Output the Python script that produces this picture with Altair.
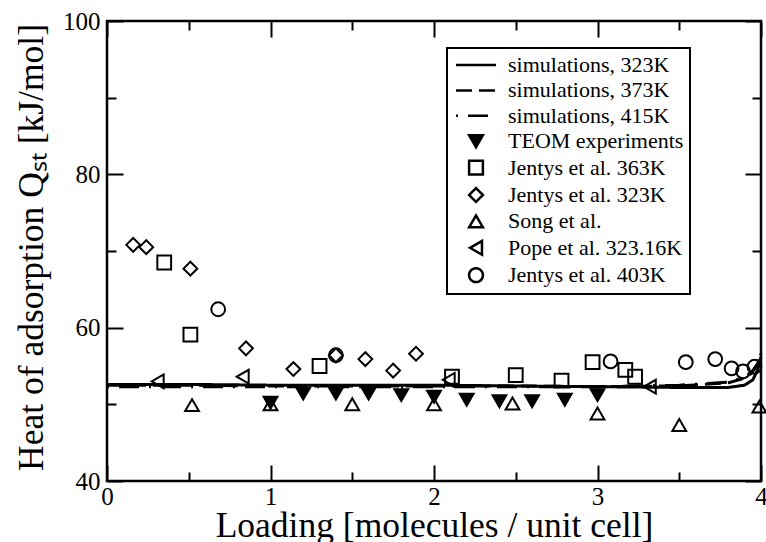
import altair as alt
import pandas as pd

# ---------------- data ----------------
series_names = [
    "simulations, 323K",
    "simulations, 373K",
    "simulations, 415K",
    "TEOM experiments",
    "Jentys et al. 363K",
    "Jentys et al. 323K",
    "Song et al.",
    "Pope et al. 323.16K",
    "Jentys et al. 403K",
]

sim323_x = [0, 0.25, 0.5, 1.0, 1.5, 2.0, 2.5, 3.0, 3.5, 3.8, 3.9, 3.95, 3.98, 4.0]
sim323_q = [52.6, 52.6, 52.6, 52.5, 52.5, 52.5, 52.4, 52.3, 52.2, 52.2, 52.5, 53.2, 54.5, 56.2]
sim373_x = [0, 0.25, 0.5, 1.0, 1.5, 2.0, 2.5, 3.0, 3.5, 3.8, 3.88, 3.94, 3.98, 4.0]
sim373_q = [52.5, 52.5, 52.5, 52.4, 52.4, 52.4, 52.4, 52.3, 52.4, 52.8, 53.3, 54.0, 55.2, 56.6]
sim415_x = [0, 0.25, 0.5, 1.0, 1.5, 2.0, 2.5, 3.0, 3.5, 3.8, 3.88, 3.94, 3.98, 4.0]
sim415_q = [52.3, 52.3, 52.3, 52.3, 52.3, 52.3, 52.3, 52.3, 52.5, 52.9, 53.4, 54.1, 55.3, 56.8]

teom_x = [1.0, 1.2, 1.4, 1.6, 1.8, 2.0, 2.2, 2.4, 2.6, 2.8, 3.0]
teom_q = [50.2, 51.4, 51.4, 51.4, 51.2, 51.0, 50.6, 50.4, 50.4, 50.6, 51.2]
j363_x = [0.35, 0.51, 1.30, 2.11, 2.50, 2.78, 2.97, 3.17, 3.23]
j363_q = [68.5, 59.1, 55.0, 53.6, 53.8, 53.1, 55.5, 54.5, 53.6]
j323_x = [0.16, 0.24, 0.51, 0.85, 1.14, 1.40, 1.58, 1.75, 1.89]
j323_q = [70.8, 70.5, 67.7, 57.3, 54.6, 56.4, 55.9, 54.4, 56.6]
song_x = [0.52, 1.0, 1.5, 2.0, 2.48, 3.0, 3.5, 3.99]
song_q = [49.9, 50.0, 50.0, 50.0, 50.1, 48.8, 47.3, 49.7]
pope_x = [0.31, 0.83, 2.09, 3.32]
pope_q = [53.0, 53.6, 53.2, 52.3]
j403_x = [0.68, 1.40, 3.08, 3.54, 3.72, 3.82, 3.89, 3.96]
j403_q = [62.4, 56.4, 55.6, 55.5, 55.9, 54.7, 54.3, 54.9]

x_major = [0, 1, 2, 3, 4]
x_minor = [0.5, 1.5, 2.5, 3.5]
y_major = [40, 60, 80, 100]
y_minor = [50, 70, 90]

# ---------------- tables ----------------
line_sets = [(series_names[0], sim323_x, sim323_q),
             (series_names[1], sim373_x, sim373_q),
             (series_names[2], sim415_x, sim415_q)]
line_rows = []
for name, xs, qs in line_sets:
    for i, (a, b) in enumerate(zip(xs, qs)):
        line_rows.append({"series": name, "loading": a, "q": b, "order": i})
lines_df = pd.DataFrame(line_rows)

point_sets = [(series_names[3], teom_x, teom_q),
              (series_names[4], j363_x, j363_q),
              (series_names[5], j323_x, j323_q),
              (series_names[6], song_x, song_q),
              (series_names[7], pope_x, pope_q),
              (series_names[8], j403_x, j403_q)]
point_rows = []
for name, xs, qs in point_sets:
    for a, b in zip(xs, qs):
        point_rows.append({"series": name, "loading": a, "q": b})
points_df = pd.DataFrame(point_rows)

FONT = "Liberation Serif"

shape_range = ["M-2.9,0L2.9,0", "M-2.9,0L2.9,0", "M-2.9,0L2.9,0",
               "triangle-down", "square", "diamond", "triangle-up", "triangle-left", "circle"]
size_range = [190, 190, 190, 230, 150, 220, 240, 230, 200]
fill_range = ["transparent", "transparent", "transparent", "black",
              "transparent", "transparent", "transparent", "transparent", "transparent"]
stroke_range = ["black"] * 9
dash_range = [[1, 0], [16, 7], [2, 10, 20, 10], [1, 0], [1, 0], [1, 0], [1, 0], [1, 0], [1, 0]]

xscale = alt.Scale(domain=[0, 4], nice=False, zero=False)
yscale = alt.Scale(domain=[40, 100], nice=False, zero=False)

legend = alt.Legend(
    orient="none", legendX=340, legendY=27, title=None,
    strokeColor="black", fillColor="white", padding=6,
    labelFont=FONT, labelFontSize=22, labelColor="black", labelOffset=21,
    symbolStrokeColor="black", symbolStrokeWidth=2.5, symbolOffset=12,
    rowPadding=3.4, labelLimit=400,
)


def ax(orient, values, size, labels=False, title=None, **kw):
    return alt.Axis(orient=orient, values=values, tickSize=size, offset=-size,
                    tickWidth=2, tickColor="black", domain=False, grid=False,
                    labels=labels, title=title, format="d", labelFlush=False,
                    labelFont=FONT, labelFontSize=25, labelColor="black",
                    titleFont=FONT, titleFontSize=35.5, titleFontWeight="normal",
                    titleColor="black", **kw)


series_stroke = alt.Stroke("series:N", title=None, legend=legend,
                           scale=alt.Scale(domain=series_names, range=stroke_range))

lines = alt.Chart(lines_df).mark_line(strokeWidth=3).encode(
    x=alt.X("loading:Q", scale=xscale,
            axis=ax("bottom", x_major, 16, labels=True,
                    title="Loading [molecules / unit cell]", labelPadding=3, titlePadding=-1)),
    y=alt.Y("q:Q", scale=yscale,
            axis=ax("left", y_major, 16, labels=True,
                    title="Heat of adsorption Qₛₜ [kJ/mol]", labelPadding=7,
                    titlePadding=13, titleY=226)),
    strokeDash=alt.StrokeDash("series:N", title=None, legend=legend,
                              scale=alt.Scale(domain=series_names, range=dash_range)),
    stroke=series_stroke,
    order="order:Q",
)

points = alt.Chart(points_df).mark_point(filled=True, opacity=1, strokeWidth=2).encode(
    x=alt.X("loading:Q", scale=xscale, axis=ax("bottom", x_minor, 9)),
    y=alt.Y("q:Q", scale=yscale, axis=ax("left", y_minor, 9)),
    shape=alt.Shape("series:N", title=None, legend=legend,
                    scale=alt.Scale(domain=series_names, range=shape_range)),
    fill=alt.Fill("series:N", title=None, legend=legend,
                  scale=alt.Scale(domain=series_names, range=fill_range)),
    size=alt.Size("series:N", title=None, legend=legend,
                  scale=alt.Scale(domain=series_names, range=size_range)),
    stroke=series_stroke,
)

top_major = alt.Chart(points_df).mark_point(opacity=0).encode(
    x=alt.X("loading:Q", scale=xscale, axis=ax("top", x_major, 16)),
    y=alt.Y("q:Q", scale=yscale, axis=ax("right", y_major, 16)),
)
top_minor = alt.Chart(points_df).mark_point(opacity=0).encode(
    x=alt.X("loading:Q", scale=xscale, axis=ax("top", x_minor, 9)),
    y=alt.Y("q:Q", scale=yscale, axis=ax("right", y_minor, 9)),
)

chart = alt.layer(lines, points, top_major, top_minor).resolve_axis(
    x="independent", y="independent"
).properties(
    width=654, height=460,
    autosize=alt.AutoSizeParams(type="none"),
    padding={"left": 107, "top": 21, "right": 5, "bottom": 61},
    background="white",
).configure(
    font=FONT
).configure_view(
    stroke="black", strokeWidth=2.5
).configure_legend(
    strokeWidth=2
)

chart.save("out.html", embed_options={"renderer": "svg", "actions": False})
